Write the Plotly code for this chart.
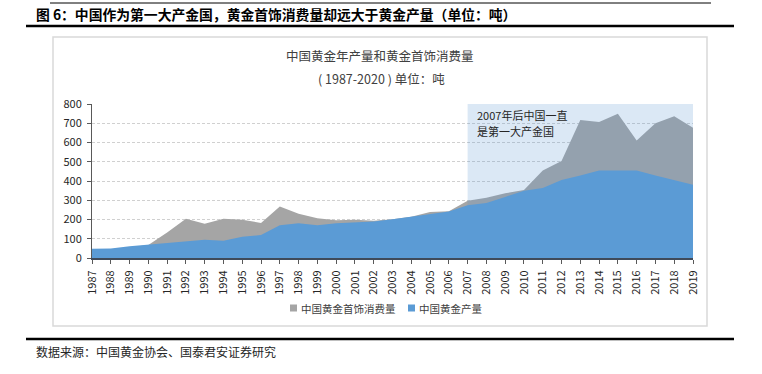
import plotly.graph_objects as go

years = list(range(1987, 2020))
production = [48, 50, 61, 70, 80, 87, 95, 90, 111, 119, 170, 180, 170, 180, 184, 189,
              201, 214, 227, 241, 274, 286, 317, 350, 364, 405, 428, 454, 454, 454, 428, 405, 381]
consumption = [44, 46, 56, 68, 133, 204, 178, 204, 199, 182, 268, 230, 206, 196, 199, 193,
               201, 214, 239, 243, 298, 313, 336, 353, 454, 504, 717, 707, 750, 610, 700, 736, 677]
highlight_years = [2007, 2019]
highlight_note = ["2007年后中国一直", "是第一大产金国"]
y_max = 800

name_cons = "中国黄金首饰消费量"
name_prod = "中国黄金产量"
color_cons = "#a5a5a5"
color_prod = "#5b9bd5"
cjk = "Noto Sans CJK SC"

fig = go.Figure()
fig.add_trace(go.Scatter(x=years, y=consumption, fill="tozeroy", mode="lines", name=name_cons,
                         line=dict(width=0, color=color_cons), fillcolor=color_cons,
                         showlegend=False, hoverinfo="skip"))
h0, h1 = highlight_years
fig.add_trace(go.Scatter(x=[h0, h1, h1, h0, h0], y=[0, 0, y_max, y_max, 0], fill="toself",
                         mode="lines", line=dict(width=0), fillcolor="rgba(91,150,210,0.22)",
                         showlegend=False, hoverinfo="skip"))
fig.add_trace(go.Scatter(x=years, y=production, fill="tozeroy", mode="lines", name=name_prod,
                         line=dict(width=0, color=color_prod), fillcolor=color_prod,
                         showlegend=False, hoverinfo="skip"))

W, H = 762, 374
fig.update_layout(
    width=W, height=H,
    margin=dict(l=92, r=69, t=104, b=116),
    paper_bgcolor="white", plot_bgcolor="white",
    font=dict(family=cjk, size=11, color="#262626"),
    showlegend=False,
    xaxis=dict(range=[1987, 2019], tickmode="array", tickvals=years,
               ticktext=[str(y) for y in years], tickangle=-90,
               showgrid=False, zeroline=False, showline=True, linecolor="#3f4a5a", linewidth=2,
               ticks="outside", ticklen=4, tickcolor="#595959", ticklabelstandoff=2,
               tickfont=dict(size=11, color="#262626")),
    yaxis=dict(range=[0, y_max], tickmode="linear", tick0=0, dtick=100,
               showgrid=True, gridcolor="#d0d0d0", griddash="3px,2px", gridwidth=1,
               zeroline=False, showline=True, linecolor="#595959", linewidth=1,
               ticks="outside", ticklen=4, tickcolor="#595959", ticklabelstandoff=3,
               tickfont=dict(size=11, color="#262626")),
)

# helpers: page pixel -> paper coordinate (plot area spans x 92..693, y 104..258)
def px_x(px):
    return (px - 92.0) / 601.0

def px_y(py):
    return (258.0 - py) / 154.0

leg_y = 308
shapes = [
    dict(type="line", xref="paper", yref="paper", x0=px_x(50), x1=px_x(711), y0=px_y(3), y1=px_y(3),
         line=dict(color="black", width=1)),
    dict(type="line", xref="paper", yref="paper", x0=px_x(26), x1=px_x(734), y0=px_y(26), y1=px_y(26),
         line=dict(color="black", width=2.5)),
    dict(type="line", xref="paper", yref="paper", x0=px_x(26), x1=px_x(734), y0=px_y(339), y1=px_y(339),
         line=dict(color="black", width=2.5)),
    dict(type="rect", xref="paper", yref="paper", x0=px_x(53), x1=px_x(707), y0=px_y(326), y1=px_y(37),
         line=dict(color="#d9d9d9", width=1.5), layer="below"),
    # legend swatches
    dict(type="rect", xref="paper", yref="paper", x0=px_x(290), x1=px_x(297),
         y0=px_y(leg_y + 3.5), y1=px_y(leg_y - 3.5), line=dict(width=0), fillcolor=color_cons),
    dict(type="rect", xref="paper", yref="paper", x0=px_x(408), x1=px_x(415),
         y0=px_y(leg_y + 3.5), y1=px_y(leg_y - 3.5), line=dict(width=0), fillcolor=color_prod),
]
fig.update_layout(shapes=shapes)

annotations = [
    dict(text="<b>图 6：中国作为第一大产金国，黄金首饰消费量却远大于黄金产量（单位：吨）</b>",
         xref="paper", yref="paper", x=px_x(34), y=px_y(14), xanchor="left", yanchor="middle",
         showarrow=False, font=dict(size=13.8, color="black", family=cjk)),
    dict(text="中国黄金年产量和黄金首饰消费量", xref="paper", yref="paper",
         x=px_x(380), y=px_y(56), xanchor="center", yanchor="middle", showarrow=False,
         font=dict(size=12.5, color="#404040")),
    dict(text="( 1987-2020 ) 单位：吨", xref="paper", yref="paper",
         x=px_x(381), y=px_y(79), xanchor="center", yanchor="middle", showarrow=False,
         font=dict(size=12.5, color="#404040")),
    dict(text=name_cons, xref="paper", yref="paper", x=px_x(299), y=px_y(leg_y),
         xanchor="left", yanchor="middle", showarrow=False,
         font=dict(size=10.5, color="#404040")),
    dict(text=name_prod, xref="paper", yref="paper", x=px_x(417), y=px_y(leg_y),
         xanchor="left", yanchor="middle", showarrow=False,
         font=dict(size=10.5, color="#404040")),
    dict(text="数据来源：中国黄金协会、国泰君安证券研究", xref="paper", yref="paper",
         x=px_x(34), y=px_y(351), xanchor="left", yanchor="middle", showarrow=False,
         font=dict(size=12, color="#262626")),
]
for i, line in enumerate(highlight_note):
    annotations.append(dict(text=line, xref="x", yref="paper", x=h0, xshift=7,
                            y=px_y(115 + 15.5 * i), xanchor="left", yanchor="middle",
                            showarrow=False, font=dict(size=11, color="#262626")))
fig.update_layout(annotations=annotations)

fig.write_html("out.html", config={"displayModeBar": False},
               post_script="document.body.style.margin='0';document.body.style.padding='0';")
